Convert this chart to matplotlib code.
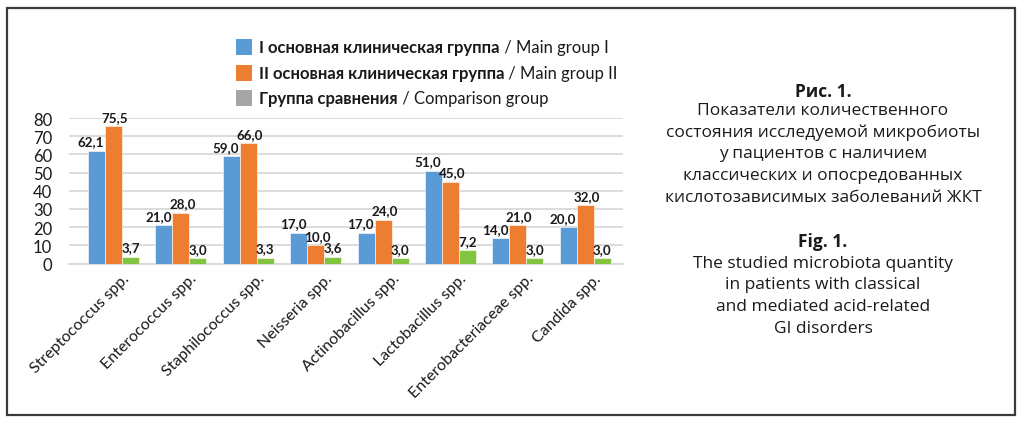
import matplotlib
matplotlib.use("Agg")
import matplotlib.pyplot as plt
import matplotlib.transforms as mtransforms
from matplotlib.patches import Rectangle
import numpy as np

categories = ["Streptococcus spp.", "Enterococcus spp.", "Staphilococcus spp.", "Neisseria spp.",
              "Actinobacillus spp.", "Lactobacillus spp.", "Enterobacteriaceae spp.", "Candida spp."]
group1 = [62.1, 21.0, 59.0, 17.0, 17.0, 51.0, 14.0, 20.0]
group2 = [75.5, 28.0, 66.0, 10.0, 24.0, 45.0, 21.0, 32.0]
group3 = [3.7, 3.0, 3.3, 3.6, 3.0, 7.2, 3.0, 3.0]
yticks = [0, 10, 20, 30, 40, 50, 60, 70, 80]

legend_bold = ["I основная клиническая группа", "II основная клиническая группа", "Группа сравнения"]
legend_regular = [" / Main group I", " / Main group II", " / Comparison group"]

caption_ru_title = "Рис. 1."
caption_ru = ["Показатели количественного", "состояния исследуемой микробиоты",
              "у пациентов с наличием", "классических и опосредованных",
              "кислотозависимых заболеваний ЖКТ"]
caption_en_title = "Fig. 1."
caption_en = ["The studied microbiota quantity", "in patients with classical",
              "and mediated acid-related", "GI disorders"]

c_blue = "#5B9BD5"
c_orange = "#ED7D31"
c_green = "#82C341"
c_gray = "#A5A5A5"
grid_c = "#D9D9D9"
txt_c = "#1a1a1a"

W, H = 1024, 427
fig = plt.figure(figsize=(W / 100, H / 100), dpi=100)
font = "Lato"

def fx(px):
    return px / W

def fy(py):
    return 1 - py / H

# outer frame
fig.patches.append(Rectangle((fx(7), fy(416)), fx(1015) - fx(7), fy(9) - fy(416),
                             transform=fig.transFigure, fill=False, edgecolor="#3a3a3a", lw=1.6))

ax = fig.add_axes([fx(69), fy(264.6), fx(623) - fx(69), fy(119) - fy(264.6)])
x = np.arange(len(categories))
bw = 0.252
b1 = ax.bar(x - bw, group1, bw, color=c_blue, edgecolor="white", linewidth=0.4, zorder=3)
b2 = ax.bar(x, group2, bw, color=c_orange, edgecolor="white", linewidth=0.4, zorder=3)
b3 = ax.bar(x + bw, group3, bw, color=c_green, edgecolor="white", linewidth=0.4, zorder=3)

def fmt(v):
    return f"{v:.1f}".replace(".", ",")

for bars, vals, dx in ((b1, group1, -4), (b2, group2, 1), (b3, group3, 0)):
    for r, v in zip(bars, vals):
        ax.annotate(fmt(v), (r.get_x() + r.get_width() / 2, v), xytext=(dx, 2.5),
                    textcoords="offset points", ha="center", va="bottom",
                    fontsize=9.6, fontweight="bold", family=font, color=txt_c, zorder=5)

ax.set_xlim(-0.66, 7.56)
ax.set_ylim(0, 80)
ax.set_yticks(yticks)
ax.set_yticklabels([str(t) for t in yticks], family=font, fontsize=12, color=txt_c)
ax.tick_params(axis="y", length=0, pad=12)
ax.tick_params(axis="x", length=0, pad=4)
ax.yaxis.grid(True, color=grid_c, lw=1.3, zorder=0)
ax.set_axisbelow(True)
for s in ("left", "right", "top"):
    ax.spines[s].set_visible(False)
ax.spines["bottom"].set_color(grid_c)
ax.spines["bottom"].set_linewidth(1.3)
ax.set_xticks(x)
ax.set_xticklabels(categories, rotation=45, ha="right", rotation_mode="anchor",
                   family=font, fontsize=11.5, color=txt_c)
offset = mtransforms.ScaledTranslation(0.09, -0.02, fig.dpi_scale_trans)
for lab in ax.get_xticklabels():
    lab.set_transform(lab.get_transform() + offset)

# legend (manual, mixed bold / regular)
colors_leg = [c_blue, c_orange, c_gray]
rows_y = [48, 73.5, 99]
fig.canvas.draw()
renderer = fig.canvas.get_renderer()
for ypx, col, bt, rt in zip(rows_y, colors_leg, legend_bold, legend_regular):
    fig.patches.append(Rectangle((fx(236), fy(ypx + 8)), fx(16), fy(0) - fy(16),
                                 transform=fig.transFigure, facecolor=col, edgecolor="none"))
    t1 = fig.text(fx(259), fy(ypx), bt, family=font, fontweight="bold", fontsize=12,
                  va="center", ha="left", color=txt_c)
    bb = t1.get_window_extent(renderer)
    fig.text(bb.x1 / W, fy(ypx), rt, family=font, fontsize=12,
             va="center", ha="left", color=txt_c)

# caption
cap_font = "Open Sans"
cx = fx(823)
fig.text(cx, fy(92), caption_ru_title, family=cap_font, fontweight="bold", fontsize=12.5,
         ha="center", va="center", color=txt_c)
for i, line in enumerate(caption_ru):
    fig.text(cx, fy(111 + i * 21.7), line, family=cap_font, fontsize=12.5,
             ha="center", va="center", color=txt_c)
fig.text(cx, fy(242), caption_en_title, family=cap_font, fontweight="bold", fontsize=12.5,
         ha="center", va="center", color=txt_c)
for i, line in enumerate(caption_en):
    fig.text(cx, fy(263.5 + i * 21.7), line, family=cap_font, fontsize=12.5,
             ha="center", va="center", color=txt_c)

fig.savefig("out.png", dpi=100, facecolor="white")
